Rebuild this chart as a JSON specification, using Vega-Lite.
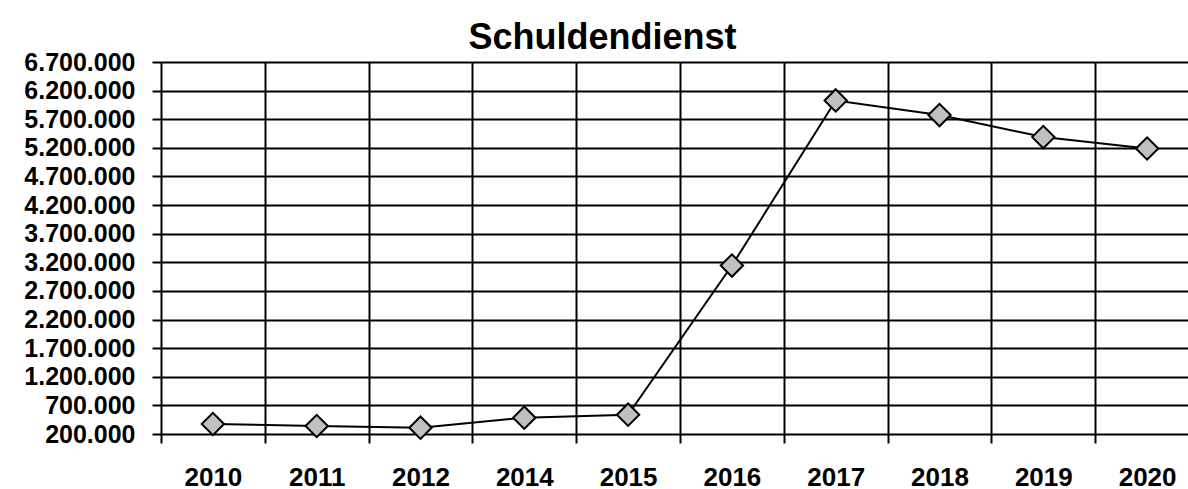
{
  "$schema": "https://vega.github.io/schema/vega-lite/v6.json",
  "width": 1027,
  "height": 372,
  "autosize": {"type": "none"},
  "padding": {"left": 161, "top": 62, "right": 0, "bottom": 55},
  "background": "white",
  "config": {
    "locale": {"number": {"decimal": ",", "thousands": ".", "grouping": [3], "currency": ["", " €"]}},
    "view": {"stroke": null},
    "font": "Liberation Sans"
  },
  "title": {
    "text": "Schuldendienst",
    "font": "Liberation Sans",
    "fontSize": 36,
    "fontWeight": "bold",
    "color": "black",
    "anchor": "middle",
    "frame": "group",
    "dx": -72,
    "baseline": "alphabetic",
    "offset": -35
  },
  "data": {
    "values": [
      {"Jahr": "2010", "Wert": 375000},
      {"Jahr": "2011", "Wert": 340000},
      {"Jahr": "2012", "Wert": 310000},
      {"Jahr": "2014", "Wert": 485000},
      {"Jahr": "2015", "Wert": 537000},
      {"Jahr": "2016", "Wert": 3143000},
      {"Jahr": "2017", "Wert": 6028000},
      {"Jahr": "2018", "Wert": 5773000},
      {"Jahr": "2019", "Wert": 5388000},
      {"Jahr": "2020", "Wert": 5189000}
    ]
  },
  "encoding": {
    "x": {
      "field": "Jahr",
      "type": "ordinal",
      "sort": null,
      "scale": {"type": "band", "paddingInner": 0, "paddingOuter": 0, "range": [0, 1038]},
      "axis": {
        "title": null,
        "tickBand": "extent",
        "grid": true,
        "gridColor": "black",
        "gridOpacity": 1,
        "gridWidth": 2,
        "domain": false,
        "ticks": true,
        "tickColor": "black",
        "tickSize": 9,
        "tickWidth": 2,
        "labelAngle": 0,
        "labelFont": "Liberation Sans",
        "labelFontSize": 26,
        "labelFontWeight": "bold",
        "labelColor": "black",
        "labelPadding": 21,
        "labelBaseline": "top"
      }
    },
    "y": {
      "field": "Wert",
      "type": "quantitative",
      "scale": {"domain": [200000, 6700000], "nice": false, "zero": false},
      "axis": {
        "title": null,
        "values": [200000, 700000, 1200000, 1700000, 2200000, 2700000, 3200000, 3700000, 4200000, 4700000, 5200000, 5700000, 6200000, 6700000],
        "format": ",d",
        "grid": true,
        "gridColor": "black",
        "gridOpacity": 1,
        "gridWidth": 2,
        "domain": false,
        "tickColor": "black",
        "tickSize": 9,
        "tickWidth": 2,
        "labelFont": "Liberation Sans",
        "labelFontSize": 25,
        "labelFontWeight": "bold",
        "labelColor": "black",
        "labelPadding": 17,
        "labelOverlap": false,
        "labelFlush": false,
        "labelBaseline": "middle"
      }
    }
  },
  "layer": [
    {"mark": {"type": "line", "color": "black", "strokeWidth": 2}},
    {"mark": {"type": "point", "shape": "diamond", "filled": true, "fill": "#c0c0c0", "stroke": "black", "strokeWidth": 2, "size": 500, "opacity": 1}}
  ]
}
